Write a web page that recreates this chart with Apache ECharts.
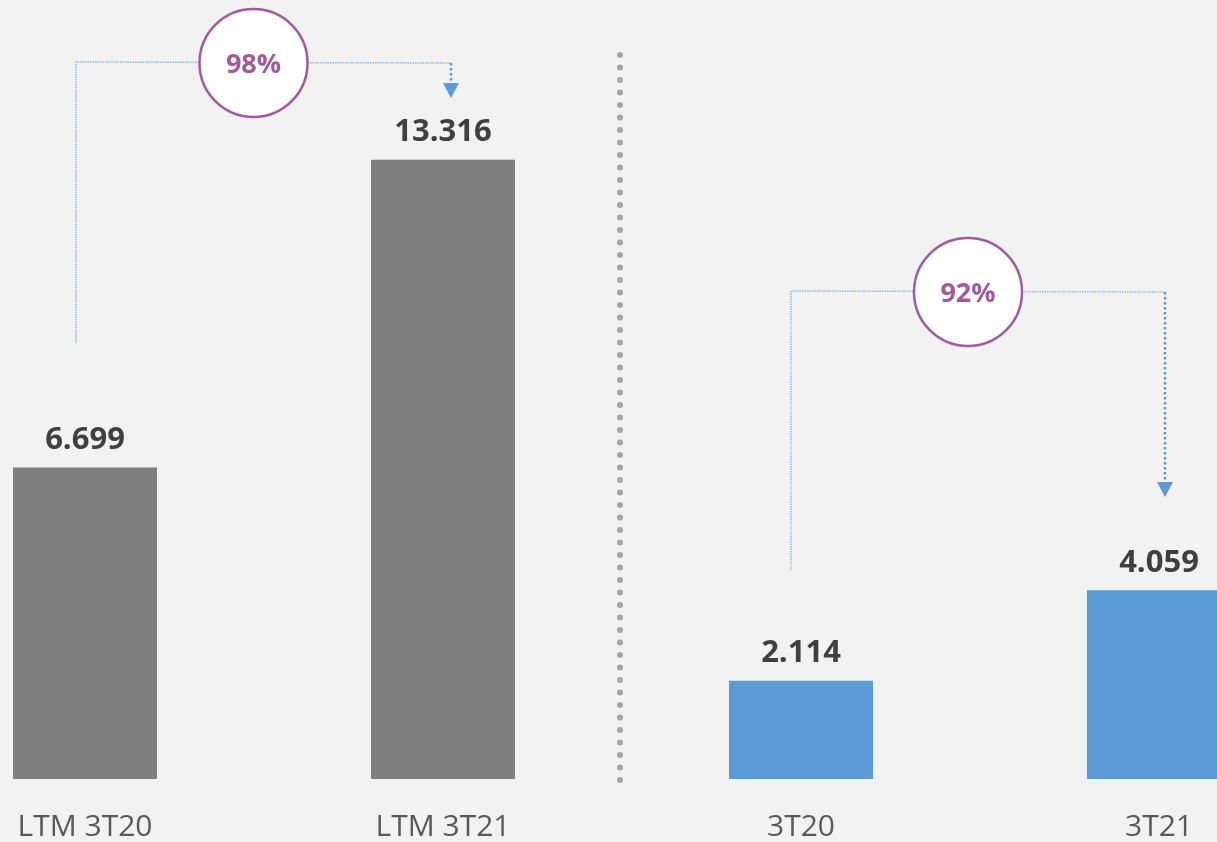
<!DOCTYPE html>
<html>
<head>
<meta charset="utf-8">
<script src="https://cdn.jsdelivr.net/npm/echarts@6/dist/echarts.min.js"></script>
<style>
  html, body { margin: 0; padding: 0; background: #f2f2f2; overflow: hidden; }
  /* 图表比窗口宽，左右两侧的柱子被裁掉一部分 */
  #main { width: 1432px; height: 842px; margin-left: -94px; }
</style>
</head>
<body>
<div id="main"></div>
<script>
/*########  数据  ########*/
var categories = ['LTM 3T20', 'LTM 3T21', '3T20', '3T21'];
var values = [6.699, 13.316, 2.114, 4.059];
var barColors = ['#7f7f7f', '#7f7f7f', '#5b9bd5', '#5b9bd5'];
var growthLabels = ['98%', '92%'];

var fmt = function (v) { return v.toFixed(3); };

var dom = document.getElementById('main');
var myChart = echarts.init(dom);

var option = {
    backgroundColor: '#f2f2f2',
    animation: false,
    grid: {
        left: 0,
        right: 0,
        top: 35,
        bottom: 62
    },
    xAxis: {
        type: 'category',
        data: categories,
        axisLine: { show: false },
        axisTick: { show: false },
        axisLabel: {
            margin: 33,
            color: '#595959',
            fontSize: 30,
            fontFamily: 'Open Sans',
            fontWeight: 'normal'
        }
    },
    yAxis: {
        type: 'value',
        min: 0,
        max: 16,
        show: false,
        splitLine: { show: false }
    },
    series: [
        {
            type: 'bar',
            barWidth: 144,
            data: values.map(function (v, i) {
                return { value: v, itemStyle: { color: barColors[i] } };
            }),
            label: {
                show: true,
                position: 'top',
                distance: 12,
                color: '#404040',
                fontSize: 31,
                fontWeight: 'bold',
                fontFamily: 'Open Sans',
                formatter: function (p) { return fmt(p.value); }
            }
        }
    ]
};
myChart.setOption(option);

/*########  注释：分隔线、增长箭头  ########*/
function px(i) { return myChart.convertToPixel({ xAxisIndex: 0 }, i); }

function bracket(fromX, toX, topY, startY, tipY, text) {
    var cx = (fromX + toX) / 2 - 10;
    var thin = { stroke: '#8fb8e0', lineWidth: 1.5, lineDash: [1.5, 1] };
    return [
        { type: 'polyline', shape: { points: [[fromX, startY], [fromX, topY], [toX, topY + 1]] }, style: thin, z: 10 },
        { type: 'line', shape: { x1: toX, y1: topY + 1, x2: toX, y2: tipY - 15 },
          style: { stroke: '#5b9bd5', lineWidth: 2.5, lineDash: [2.5, 2.5] }, z: 10 },
        { type: 'polygon', shape: { points: [[toX - 8, tipY - 15], [toX + 8, tipY - 15], [toX, tipY]] },
          style: { fill: '#5b9bd5' }, z: 10 },
        { type: 'circle', shape: { cx: cx, cy: topY + 1, r: 54 },
          style: { fill: '#ffffff', stroke: '#a05a9e', lineWidth: 2.5 }, z: 11 },
        { type: 'text', x: cx, y: topY + 3,
          style: { text: text, fill: '#a05a9e', font: 'bold 27px "Open Sans"', align: 'center', verticalAlign: 'middle' }, z: 12 }
    ];
}

var c0 = px(0), c1 = px(1), c2 = px(2), c3 = px(3);
var sepX = (c1 + c2) / 2 - 2;

var graphics = [
    { type: 'line', shape: { x1: sepX, y1: 55, x2: sepX, y2: 790 },
      style: { stroke: '#a6a6a6', lineWidth: 6, lineCap: 'round', lineDash: [0, 12.5] }, z: 5 }
];
graphics = graphics
    .concat(bracket(c0 - 9, c1 + 8, 62, 343, 98, growthLabels[0]))
    .concat(bracket(c2 - 10, c3 + 6, 291, 570, 497, growthLabels[1]));

myChart.setOption({ graphic: graphics });
</script>
</body>
</html>
